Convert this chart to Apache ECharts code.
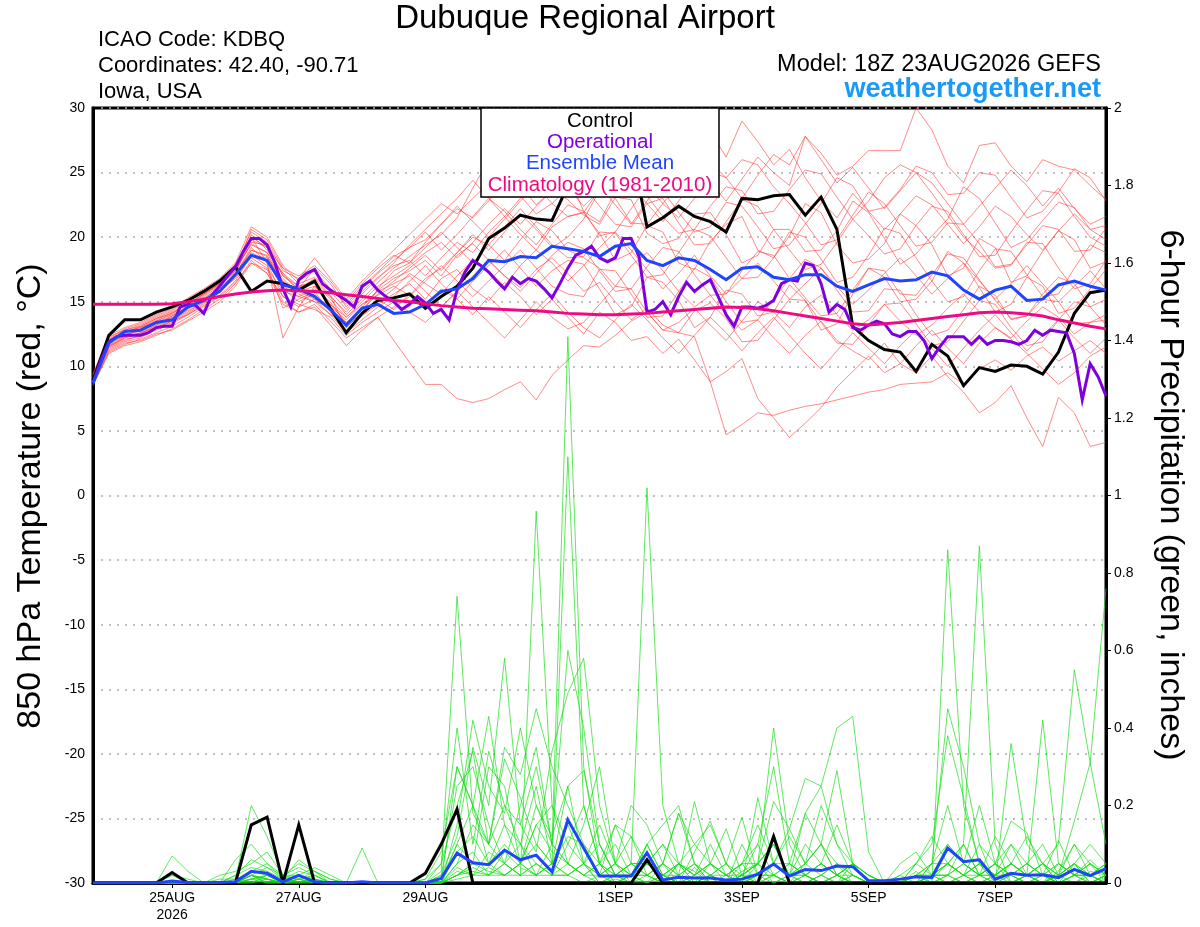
<!DOCTYPE html>
<html>
<head>
<meta charset="utf-8">
<script src="https://cdn.jsdelivr.net/npm/echarts@6/dist/echarts.min.js"></script>
<style>
html,body{margin:0;padding:0;background:#fff;}
#chart{width:1200px;height:927px;}
</style>
</head>
<body>
<div id="chart"></div>
<script>
// ---- x axis: 6-hourly steps from 23AUG2026 18Z (index 0) to 08SEP 18Z (index 64)
const tickIndex = [5, 13, 21, 33, 41, 49, 57];
const tickLabels = ['25AUG\n2026', '27AUG', '29AUG', '1SEP', '3SEP', '5SEP', '7SEP'];

// ---- Control (black), 850 hPa temperature, 6-hourly
const controlTemp = [8.9,12.4,13.6,13.6,14.2, 14.6,15.1,15.8,16.6,17.7, 15.8,16.6,16.4,15.9,16.6, 14.5,12.6,14.1,15.1,15.3,
 15.6,14.5,15.4,16.2,17.6, 19.9,20.7,21.7,21.4,21.3, 24.0,26.0,28.0,27.0,27.0, 20.8,21.5,22.4,21.6,21.2,
 20.4,23.0,22.9,23.2,23.3, 21.7,23.1,20.6,13.1,12.0, 11.3,11.1,9.6,11.7,10.8, 8.5,9.9,9.6,10.1,10.0,
 9.4,11.1,14.1,15.7,15.9];

// ---- Ensemble mean (blue) temperature, 6-hourly
const meanTemp = [8.7,11.8,12.7,12.8,13.4, 13.6,14.6,15.1,15.8,17.1, 18.6,18.2,16.3,16.0,15.4, 14.4,13.2,14.5,14.8,14.1,
 14.2,14.8,15.8,16.0,16.8, 18.2,18.1,18.5,18.4,19.3, 19.1,18.9,18.5,19.3,19.5, 18.2,17.8,18.4,18.2,17.5,
 16.7,17.6,17.7,16.9,16.7, 17.1,17.1,16.2,15.8,16.3, 16.8,16.6,16.7,17.3,17.0, 15.9,15.2,15.9,16.2,15.1,
 15.2,16.3,16.6,16.2,15.9];

// ---- Climatology 1981-2010 (pink), 6-hourly
const climTemp = [14.8,14.8,14.8,14.8,14.8, 14.85,15.0,15.2,15.4,15.6, 15.75,15.85,15.9,15.85,15.8, 15.7,15.55,15.4,15.25,15.1,
 15.0,14.85,14.7,14.6,14.5, 14.45,14.4,14.35,14.3,14.2, 14.1,14.05,14.0,14.0,14.05, 14.1,14.2,14.3,14.4,14.5,
 14.6,14.55,14.45,14.3,14.1, 13.9,13.7,13.5,13.3,13.2, 13.3,13.4,13.55,13.7,13.85, 14.0,14.15,14.2,14.15,14.05,
 13.9,13.6,13.35,13.1,12.9];

// ---- Operational (purple) temperature, 3-hourly (129 values)
const operTemp = [8.7,10.5,11.9,12.3,12.4,12.4,12.4,12.6,13.0,13.1,
 13.1,14.6,14.8,14.7,14.1,15.5,16.2,17.0,17.7,18.9,
 19.9,19.9,19.4,18.0,16.0,14.6,16.7,17.2,17.5,16.4,
 15.9,15.5,15.1,14.6,16.2,16.6,15.9,15.4,15.0,14.4,
 14.8,15.4,14.9,14.1,14.4,13.6,15.9,17.3,18.2,17.8,
 17.3,16.6,16.0,16.9,16.4,16.8,16.6,16.0,15.3,16.4,
 17.6,18.6,18.9,19.3,18.4,18.1,18.4,19.9,19.9,18.5,
 14.2,14.4,15.0,14.0,15.4,16.5,15.8,16.3,16.7,15.4,
 14.0,13.1,14.6,14.6,14.5,14.7,15.1,16.4,16.7,16.6,
 18.0,17.8,16.4,14.2,14.8,14.4,13.0,12.8,13.2,13.5,
 13.3,12.5,12.3,12.7,12.7,12.0,10.6,11.5,12.3,12.3,
 12.3,11.7,12.3,11.7,12.0,12.0,11.9,11.7,12.0,12.8,
 12.4,12.8,12.7,12.6,11.0,7.4,10.2,9.2,7.7];

// ---- Ensemble members (red) temperature, 6-hourly
const t01 = [9.0,11.8,12.6,13.0,13.6,14.2,14.8,15.6,16.4,17.5, 19.5,18.8,16.5,16.0,16.8,15.5,14.0,15.2,16.5,17.6,
 18.5,19.4,20.2,21.5,23.8,26.0,25.2,24.0,22.5,23.6, 24.8,22.0,21.2,23.5,25.4,24.0,22.6,21.5,23.0,24.2,
 22.8,24.5,26.2,25.0,24.0,27.8,26.5,24.8,25.5,26.7, 26.7,26.7,30.0,28.3,25.5,24.2,27.1,27.3,25.5,24.3, 26.0,25.5,25.2,24.0,22.9];
const t02 = [8.6,11.2,11.8,12.0,12.5,12.8,13.5,14.2,15.0,16.2, 18.0,17.5,15.0,14.2,14.8,13.5,12.2,13.0,13.8,12.0,
 10.3,8.6,8.6,7.5,7.2,7.5,8.2,8.8,7.4,9.3, 10.5,11.6,11.5,12.4,13.5,14.2,12.8,13.4,14.5,13.2,
 12.0,13.5,15.0,14.2,13.0,14.6,15.5,14.0,12.8,13.6, 14.8,13.5,12.4,13.2,14.5,15.6,14.2,13.0,12.2,13.5, 14.6,13.8,12.5,13.4,14.0];
const t03 = [9.2,12.0,12.4,12.8,13.4,13.9,14.5,15.1,16.0,17.2, 20.2,19.0,17.2,15.8,16.2,14.8,13.4,14.6,15.9,16.8,
 17.4,18.2,17.0,18.6,19.5,18.2,17.0,16.1,17.5,18.4, 17.2,15.8,16.5,15.0,13.6,14.5,13.2,12.6,12.3,8.8,
 4.7,5.5,6.4,6.2,6.6,6.9,7.1,7.4,7.7,8.0, 8.2,8.6,8.7,8.8,9.5,8.6,9.8,10.5,9.7,10.8, 11.5,10.4,11.2,12.0,11.0];
const t04 = [8.8,11.5,12.2,12.6,13.0,13.5,14.0,14.7,15.5,16.6, 18.6,17.8,14.5,15.2,15.8,14.2,12.8,13.9,14.8,15.6,
 16.4,15.2,16.8,17.5,16.0,15.1,16.5,15.4,14.0,15.2, 13.8,12.5,14.2,13.4,12.0,12.3,11.0,12.1,10.5,8.8,
 9.6,10.6,7.5,6.0,4.5,5.6,6.8,8.4,9.6,10.8, 9.5,10.2,11.6,12.8,11.4,10.2,11.8,13.0,12.1,11.0, 9.8,8.6,9.5,10.8,11.5];
const t05 = [9.0,11.6,12.3,12.5,13.1,13.6,14.3,15.0,15.7,16.9, 19.0,18.5,16.8,15.6,15.0,14.6,13.6,14.8,15.5,16.2,
 15.5,16.8,17.6,18.8,20.0,19.4,18.2,19.8,21.2,20.5, 19.0,18.4,17.6,16.2,17.8,18.8,17.4,15.8,14.6,15.5,
 14.0,12.8,13.6,12.2,11.0,12.4,13.5,12.0,11.2,10.5, 11.8,10.2,9.5,10.8,9.2,8.0,6.4,7.2,8.5,6.0, 3.8,7.6,6.4,3.8,4.1];
const t06 = [9.4,12.2,12.9,13.3,13.9,14.5,15.3,16.0,16.8,18.0, 20.8,20.0,17.8,16.6,17.4,16.0,14.8,16.2,17.3,18.5,
 19.2,19.8,21.0,22.2,21.5,22.8,24.5,23.2,21.8,22.6, 23.8,25.4,24.0,22.5,21.0,22.8,24.6,26.0,27.4,28.2,
 26.2,29.0,27.4,25.6,26.8,24.6,22.8,21.5,23.4,22.0, 20.6,21.8,23.2,22.5,21.0,19.5,20.8,22.4,21.6,20.2, 19.0,20.5,21.8,20.6,19.8];
const t07 = [8.9,11.9,12.5,12.7,13.3,13.8,14.6,15.4,16.2,17.4, 19.8,19.2,17.6,16.4,16.9,15.8,14.4,15.8,16.9,17.8,
 18.2,17.0,18.4,19.6,18.8,20.4,21.6,20.2,19.0,20.8, 21.6,21.9,20.3,18.2,18.8,20.9,20.4,18.0,17.5,19.7,
 21.0,21.6,19.0,18.4,20.1,22.6,21.9,19.4,18.0,18.3, 19.5,21.8,20.9,19.4,17.0,17.6,19.9,19.2,16.5,17.0, 18.9,20.5,19.8,17.6,18.1];
const t08 = [9.1,11.4,12.0,12.4,12.8,13.3,14.0,14.8,15.8,17.0, 18.8,18.2,16.0,15.0,15.6,14.4,13.0,14.2,15.0,16.0,
 17.2,16.4,15.6,17.0,18.2,17.4,16.2,17.8,19.0,18.0, 16.6,17.8,19.2,20.4,19.0,17.5,16.0,17.2,18.6,17.0,
 15.6,16.8,18.0,16.6,15.2,16.4,17.6,16.2,14.8,15.9, 17.2,18.4,17.0,15.6,16.8,18.0,16.6,15.2,16.4,17.8, 16.4,15.0,16.2,17.4,16.0];
const t09 = [9.3,12.1,12.8,13.1,13.7,14.3,15.0,15.8,16.6,17.8, 20.4,19.6,17.4,16.8,18.4,16.8,15.2,16.6,17.8,19.0,
 20.2,21.4,22.6,21.8,23.0,24.2,23.4,25.0,26.4,25.2, 23.8,22.4,23.6,25.0,24.0,22.6,21.2,22.8,24.4,25.8,
 24.6,23.0,24.8,26.4,25.6,27.8,26.0,24.2,25.4,23.8, 22.2,23.6,25.0,24.2,22.6,21.0,22.4,23.8,25.2,24.0, 22.4,23.8,22.2,21.0,21.6];
const t10 = [8.7,11.3,11.9,12.2,12.9,13.4,14.1,14.9,15.9,17.1, 19.2,18.0,15.4,14.6,15.2,14.0,12.6,13.6,14.6,15.4,
 16.6,17.8,16.4,15.2,16.6,17.8,19.0,17.6,16.2,17.4, 18.2,17.9,16.0,14.0,14.6,16.9,16.5,15.1,13.0,13.8,
 15.9,15.6,13.9,14.2,16.3,15.1,12.8,13.3,15.6,17.6, 16.9,15.0,15.2,16.6,18.9,18.0,16.1,14.2,14.8,16.9, 16.2,14.1,14.5,16.0,17.5];
const t11 = [9.0,11.7,12.4,12.9,13.5,14.0,14.7,15.5,16.3,17.3, 19.6,19.4,17.0,16.2,16.4,15.2,13.8,15.0,16.2,17.0,
 17.8,18.8,19.6,18.4,19.6,21.0,22.2,21.0,22.4,23.6, 22.9,21.7,21.0,23.1,22.9,20.3,19.5,19.9,21.8,21.9,
 20.2,18.0,18.6,20.6,20.6,18.9,19.0,20.5,22.8,21.9, 19.9,17.9,18.7,20.1,21.4,23.9,23.0,21.1,19.2,19.8, 21.3,22.7,22.3,20.6,20.9];
const t12 = [8.8,11.6,12.2,12.5,13.2,13.7,14.4,15.2,16.1,17.2, 19.0,18.6,16.2,15.4,16.0,15.0,13.2,14.4,15.6,16.6,
 17.6,18.6,17.4,18.8,20.2,19.0,20.4,21.8,20.6,19.2, 20.0,21.4,23.6,23.0,21.1,21.0,22.6,24.1,26.2,25.1,
 24.6,26.0,25.6,23.9,22.6,21.1,19.4,19.8,21.7,23.5, 22.6,20.9,19.3,19.6,21.1,21.0,19.5,17.7,17.9,19.4, 20.9,20.6,18.9,19.0,20.7];
const t13 = [9.2,11.9,12.3,12.6,13.2,13.9,14.6,15.3,16.0,17.0, 18.4,17.6,15.8,15.4,15.0,14.0,13.4,14.0,15.2,14.4,
 15.6,14.8,16.0,15.2,14.0,15.4,14.2,13.0,14.4,15.6, 14.2,13.0,12.2,13.6,14.8,13.6,12.2,11.0,12.4,13.8,
 12.6,11.2,12.6,13.8,12.4,11.0,9.8,11.2,12.6,11.4, 10.2,11.6,12.8,11.4,10.0,11.4,12.8,14.0,12.6,11.2, 12.4,13.6,12.2,11.0,12.2];
const t14 = [9.4,12.4,13.0,13.4,14.0,14.6,15.2,15.9,16.7,17.9, 20.0,19.2,17.0,16.0,17.6,16.4,14.6,16.0,17.2,18.2,
 19.2,20.4,19.0,20.2,21.6,23.0,22.0,20.6,19.4,21.0, 22.5,22.0,20.1,20.4,22.2,23.9,23.6,21.9,20.4,20.8,
 22.7,22.4,20.8,19.1,19.4,21.0,22.6,24.6,24.0,22.0, 22.3,23.7,25.5,25.0,23.3,23.4,25.0,24.8,23.1,21.5, 22.0,23.5,25.3,24.6,22.8];
const t15 = [8.6,11.0,11.6,11.9,12.4,12.9,13.6,14.4,15.2,16.4, 18.2,17.2,14.8,14.2,14.6,13.2,11.6,12.8,13.8,14.6,
 15.4,16.6,17.8,16.6,15.4,16.6,17.8,19.0,17.6,16.2, 15.6,15.4,17.5,17.4,15.6,13.8,13.9,15.8,17.6,16.9,
 15.0,13.4,13.6,15.2,16.8,18.3,17.6,15.9,14.2,14.3, 16.0,15.9,14.0,12.4,12.8,14.4,16.2,15.5,13.6,13.9, 15.2,15.0,13.3,13.4,13.6];
const t16 = [9.1,12.3,12.8,13.2,13.8,14.4,15.1,15.7,16.5,17.6, 20.0,18.0,12.2,14.6,16.2,15.4,13.0,14.2,16.0,17.4,
 18.0,19.2,20.4,19.2,18.0,19.4,20.8,22.2,20.8,19.4, 18.4,18.5,20.4,20.3,18.6,16.9,17.1,18.8,20.6,20.1,
 18.4,16.8,16.9,18.4,20.4,20.0,18.3,16.5,16.9,18.6, 20.7,20.3,18.4,16.6,15.0,15.4,17.4,19.1,18.9,17.1, 15.4,15.6,17.6,19.4,18.8];
const t17 = [8.9,11.8,12.6,13.1,13.7,14.1,14.9,15.6,16.4,17.6, 19.4,18.8,17.2,16.2,16.6,15.4,14.2,15.6,16.8,18.0,
 19.4,20.6,21.8,23.0,24.4,23.0,21.6,23.0,24.4,26.2, 25.1,24.0,22.4,21.0,20.8,22.6,23.0,21.1,19.4,19.5,
 21.2,22.9,22.4,20.6,19.0,17.5,17.9,19.6,21.4,22.8, 24.6,25.6,25.0,23.4,21.7,20.0,18.9,17.6,17.8,19.6, 19.5,17.6,16.0,16.4,18.2];
const t18 = [8.5,11.1,11.7,12.1,12.6,13.1,13.8,14.6,15.4,16.5, 18.0,17.2,15.4,14.8,14.4,13.8,12.4,13.4,14.2,15.0,
 14.2,13.4,14.6,15.8,14.6,13.4,12.2,13.6,15.0,13.8, 12.9,13.4,14.8,16.2,16.0,14.2,12.8,12.6,14.3,14.9,
 13.7,11.9,12.0,13.6,15.2,15.1,13.4,11.8,11.7,13.2, 14.8,14.9,13.3,11.6,11.9,13.5,15.1,14.8,13.0,11.6, 11.9,13.6,15.0,14.6,13.2];
const t19 = [9.3,12.0,12.7,13.0,13.5,14.1,14.8,15.6,16.4,17.4, 20.6,19.8,17.6,17.0,17.8,16.6,15.0,16.4,17.6,18.6,
 18.0,19.6,21.0,22.4,21.2,20.0,21.4,22.8,24.0,22.6, 21.6,21.9,23.7,25.4,25.1,23.2,21.6,20.3,20.6,22.4,
 23.9,23.6,21.8,22.0,23.7,25.2,24.9,23.1,21.4,20.1, 18.7,19.1,20.9,22.4,22.0,20.2,18.5,18.6,20.4,22.1, 23.6,23.4,21.6,20.0,19.3];
const t20 = [9.0,11.5,12.1,12.3,13.0,13.5,14.2,15.0,15.9,16.8, 18.6,18.4,16.6,15.8,15.2,14.8,13.8,14.8,15.8,16.4,
 17.0,15.8,14.6,15.8,17.0,18.2,17.0,15.8,17.2,18.6, 19.6,19.1,17.4,15.8,16.0,17.7,19.2,18.9,17.1,15.5,
 15.6,17.4,18.9,18.6,16.8,15.3,13.9,14.1,15.9,17.6, 17.4,15.6,15.5,17.1,18.7,18.4,16.7,15.1,13.7,13.9, 15.6,16.9,16.4,14.6,15.2];
const tempMembers = [t01,t02,t03,t04,t05,t06,t07,t08,t09,t10,t11,t12,t13,t14,t15,t16,t17,t18,t19,t20];

// ---- 6-hour precipitation (inches)
const controlPrecip = [0,0,0,0,0, 0.027,0,0,0,0, 0.15,0.17,0,0.15,0, 0,0,0,0,0, 0,0.025,0.10,0.19,0,
 0,0,0,0,0, 0,0,0,0,0, 0.06,0,0,0,0, 0,0,0,0.12,0, 0,0,0,0,0, 0,0,0,0,0, 0,0,0,0,0, 0,0,0,0,0];
const meanPrecip = [0,0,0,0,0, 0.005,0.001,0.001,0.001,0.003, 0.03,0.025,0.003,0.02,0.003, 0,0,0.003,0,0,
 0,0,0.012,0.077,0.052, 0.047,0.085,0.06,0.072,0.029, 0.163,0.09,0.018,0.018,0.018, 0.078,0.008,0.015,0.013,0.013,
 0.008,0.01,0.023,0.049,0.018, 0.035,0.032,0.044,0.042,0.006, 0.006,0.01,0.016,0.014,0.09, 0.055,0.06,0.01,0.025,0.02,
 0.021,0.014,0.035,0.019,0.037];
const p01 = [0,0,0,0,0, 0.07,0.03,0,0,0.01, 0.20,0.12,0.02,0.04,0.02, 0,0,0,0,0, 0,0,0.03,0.74,0.18, 0.10,0.05,0.02,0.96,0.20, 0.05,0.02,0,0.01,0, 0.10,0.02,0,0.04,0, 0,0.05,0.10,0.02,0, 0.05,0.10,0.02,0,0, 0,0,0.03,0,0.86, 0.20,0.05,0,0.02,0, 0,0.03,0.10,0.02,0];
const p02 = [0,0,0,0,0, 0.02,0,0,0,0.06, 0.10,0.05,0.01,0.06,0.03, 0.01,0,0.09,0,0, 0,0,0.02,0.12,0.35, 0.20,0.58,0.15,0.30,0.10, 1.41,0.30,0.05,0,0.02, 0,0.05,0.18,0.05,0, 0,0.02,0.05,0.40,0.10, 0.02,0,0,0.05,0.02, 0,0,0,0.02,0.05, 0.10,0.87,0.10,0,0.02, 0.05,0,0,0.03,0.02];
const p03 = [0,0,0,0,0, 0,0,0,0.02,0.03, 0.05,0.08,0.02,0.02,0.01, 0,0,0,0,0, 0,0.01,0.05,0.20,0.34, 0.10,0.32,0.22,0.10,0.05, 1.10,0.20,0.05,0.15,0.05, 0.05,0.02,0,0.08,0.16, 0.05,0.17,0.02,0.05,0.14, 0.05,0.10,0.05,0.02,0, 0,0,0.02,0.01,0.05, 0.02,0.10,0,0.36,0.10, 0.05,0.02,0.16,0.31,0.76];
const p04 = [0,0,0,0,0, 0.02,0.01,0,0,0.02, 0.04,0.03,0.01,0.02,0.04, 0.02,0,0,0,0, 0,0,0.05,0.40,0.10, 0.34,0.20,0.15,0.08,0.34, 0.49,0.58,0.20,0.05,0.12, 0.05,0.10,0.05,0.02,0.05, 0.02,0,0.22,0.05,0.05, 0.18,0.10,0.29,0.05,0.02, 0,0,0,0.05,0.45, 0.30,0.10,0.05,0.16,0.13, 0.02,0.11,0.02,0.06,0.02];
const p05 = [0,0,0,0,0, 0,0,0,0.01,0.01, 0.03,0.05,0.02,0.05,0.03, 0,0,0,0,0, 0,0,0,0.15,0.42, 0.25,0.18,0.40,0.20,0.12, 0.25,0.29,0.10,0.02,0.05, 1.02,0.20,0.05,0.03,0, 0,0.03,0.05,0.21,0.14, 0.27,0.25,0.40,0.43,0.08, 0,0,0.05,0.10,0.38, 0.22,0.05,0.02,0.05,0.02, 0.42,0.05,0.02,0.02,0.05];
const p06 = [0,0,0,0,0, 0,0,0,0,0, 0.02,0.04,0.01,0.03,0.02, 0,0,0,0,0, 0,0.01,0.08,0.30,0.20, 0.43,0.15,0.10,0.25,0.05, 0.12,0.10,0.02,0.15,0.12, 0.02,0.05,0.02,0.21,0.05, 0.02,0.05,0.05,0.10,0.02, 0.18,0.25,0.10,0.02,0, 0,0.05,0.08,0.02,0.10, 0.05,0.02,0.12,0.05,0.02, 0.05,0.10,0.55,0.31,0.10];
const p07 = [0,0,0,0,0, 0,0,0,0,0.02, 0.06,0.04,0.02,0.01,0.03, 0.01,0,0,0,0, 0,0,0.02,0.25,0.30, 0.15,0.05,0.20,0.35,0.10, 0.05,0.15,0.30,0.05,0.02, 0.10,0.15,0.20,0.05,0.02, 0,0.10,0.02,0.05,0.12, 0.05,0.20,0.10,0.05,0, 0,0,0.05,0.12,0.05, 0.02,0.05,0.02,0.10,0.05, 0.02,0,0.05,0.10,0.05];
const p08 = [0,0,0,0,0, 0,0,0,0,0, 0.03,0.02,0,0.02,0.01, 0,0,0,0,0, 0,0,0.01,0.10,0.05, 0.30,0.25,0.05,0.15,0.20, 0.10,0.05,0.15,0.05,0.20, 0.15,0.05,0.18,0.10,0.05, 0.14,0.02,0.10,0.30,0.05, 0.02,0.05,0.15,0.05,0.02, 0,0.02,0.05,0.02,0.02, 0.10,0.02,0.05,0.02,0.05, 0.10,0.02,0.05,0.02,0.05];
const p09 = [0,0,0,0,0, 0,0,0,0,0, 0.02,0.01,0,0.01,0.02, 0,0,0,0,0, 0,0,0,0.05,0.15, 0.10,0.35,0.28,0.45,0.30, 0.20,0.10,0.05,0.02,0.05, 0.05,0.02,0.05,0.10,0.15, 0.05,0.02,0.05,0.10,0.02, 0.05,0.10,0.02,0.05,0, 0,0,0.02,0.05,0.20, 0.05,0.02,0.02,0.05,0.12, 0.05,0.02,0.10,0.05,0.02];
const p10 = [0,0,0,0,0, 0,0,0,0,0, 0.01,0.02,0,0.02,0, 0,0,0,0,0, 0,0,0,0.10,0.20, 0.05,0.10,0.05,0.20,0.10, 0.60,0.40,0.10,0.02,0.05, 0.02,0,0.05,0.02,0.10, 0.02,0.05,0.15,0.05,0.02, 0.10,0.05,0.02,0.05,0.02, 0,0,0.02,0.05,0.05, 0.02,0.05,0.02,0.05,0.02, 0.02,0.05,0.02,0.05,0.02];
const p11 = [0,0,0,0,0, 0,0,0,0,0, 0.02,0.01,0,0,0.01, 0,0,0,0,0, 0,0,0,0.30,0.20, 0.10,0.20,0.10,0.05,0.02, 0.10,0.20,0.05,0.10,0.02, 0.05,0.10,0.02,0,0.05, 0.02,0,0.05,0.02,0.05, 0.02,0,0.02,0.05,0, 0,0,0,0.05,0.10, 0.05,0.20,0.05,0.02,0, 0.02,0.05,0.02,0.02,0];
const p12 = [0,0,0,0,0, 0,0,0,0,0, 0.01,0.01,0,0.01,0, 0,0,0,0,0, 0,0,0,0.08,0.12, 0.05,0.15,0.05,0.10,0.05, 0.25,0.05,0.02,0.05,0.02, 0.10,0.02,0.05,0,0.02, 0,0.02,0.05,0.10,0.02, 0.02,0.05,0.02,0,0, 0,0.02,0,0.02,0.05, 0.10,0.02,0.05,0.10,0.02, 0.05,0.02,0.05,0,0.02];
const p13 = [0,0,0,0,0, 0,0,0,0,0, 0.01,0,0,0.02,0, 0,0,0,0,0, 0,0,0,0.05,0.08, 0.02,0.05,0.10,0.02,0.05, 0.15,0.05,0.10,0.02,0, 0.05,0.02,0,0.02,0.05, 0,0.02,0.02,0.05,0.02, 0,0.02,0.05,0.02,0, 0,0,0.02,0,0.02, 0.05,0.02,0,0.05,0.02, 0,0.02,0.05,0.02,0];
const p14 = [0,0,0,0,0, 0,0,0,0,0, 0,0.01,0,0,0, 0,0,0,0,0, 0,0,0,0.02,0.05, 0.05,0.02,0.05,0.15,0.08, 0.05,0.02,0.05,0,0.02, 0.02,0,0.02,0.05,0.02, 0.02,0,0.02,0.02,0, 0.02,0.05,0.02,0,0, 0,0,0,0.02,0.05, 0.02,0,0.02,0.02,0.05, 0.02,0,0.02,0.05,0.02];
const p15 = [0,0,0,0,0, 0,0,0,0,0, 0.02,0,0,0.01,0, 0,0,0,0,0, 0,0,0,0.04,0.02, 0.08,0.05,0.02,0.05,0.02, 0.02,0.05,0,0.02,0.05, 0.02,0.05,0,0,0.02, 0.05,0,0.02,0,0.02, 0,0.02,0,0.02,0, 0,0,0.02,0.02,0, 0.02,0.05,0,0,0.02, 0,0.02,0,0.02,0.05];
const p16 = [0,0,0,0,0, 0,0,0,0,0, 0,0.02,0,0.02,0, 0,0,0,0,0, 0,0,0,0.02,0.04, 0.02,0.08,0.04,0.02,0.10, 0.05,0.02,0.02,0.05,0, 0.02,0,0.05,0.02,0, 0,0.02,0,0.02,0.05, 0.02,0,0.02,0.05,0, 0,0,0,0.02,0.02, 0,0.02,0.05,0.02,0, 0.02,0,0.02,0,0.02];
const p17 = [0,0,0,0,0, 0,0,0,0,0, 0.02,0.01,0,0.01,0, 0,0,0,0,0, 0,0,0,0.02,0.05, 0.03,0.02,0.05,0.02,0.05, 0.02,0.05,0.02,0,0.02, 0.05,0.02,0,0.02,0.05, 0.02,0.02,0,0.05,0.02, 0.05,0.02,0,0.02,0, 0,0,0,0.02,0.05, 0.02,0,0.02,0.05,0.02, 0,0.02,0.05,0,0.02];
const p18 = [0,0,0,0,0, 0,0,0,0,0, 0.01,0.02,0,0,0, 0,0,0,0,0, 0,0,0,0.03,0.02, 0.02,0.05,0.02,0.05,0.02, 0.05,0.02,0.05,0.02,0, 0,0.02,0.05,0,0.02, 0.05,0,0.02,0.02,0, 0.02,0.05,0.02,0,0, 0,0,0.02,0,0.02, 0.05,0.02,0.02,0,0.02, 0.05,0,0.02,0.02,0];
const p19 = [0,0,0,0,0, 0,0,0,0,0, 0,0,0,0.01,0, 0,0,0,0,0, 0,0,0,0.02,0.03, 0.02,0.02,0.05,0.02,0.02, 0.02,0.05,0,0.02,0.02, 0.02,0.05,0.02,0,0.02, 0,0.02,0.05,0,0.02, 0.02,0,0.02,0.02,0, 0,0,0,0.02,0, 0.02,0.02,0,0.02,0.05, 0.02,0,0.02,0.05,0];
const p20 = [0,0,0,0,0, 0,0,0,0,0, 0.02,0,0,0,0, 0,0,0,0,0, 0,0,0,0.01,0.02, 0.04,0.02,0.02,0.02,0.05, 0.02,0,0.02,0.05,0.02, 0,0.02,0.02,0.05,0, 0.02,0.05,0,0.02,0, 0,0.02,0.05,0,0, 0,0,0.02,0.02,0.02, 0,0.02,0.05,0,0.02, 0,0.05,0.02,0,0.02];
const precipMembers = [p01,p02,p03,p04,p05,p06,p07,p08,p09,p10,p11,p12,p13,p14,p15,p16,p17,p18,p19,p20];

// ---- texts
const titleText = 'Dubuque Regional Airport';
const infoLines = ['ICAO Code: KDBQ', 'Coordinates: 42.40, -90.71', 'Iowa, USA'];
const modelText = 'Model: 18Z 23AUG2026 GEFS';
const siteText = 'weathertogether.net';
const legendNames = ['Control', 'Operational', 'Ensemble Mean', 'Climatology (1981-2010)'];
const leftAxisName = '850 hPa Temperature (red, \u00B0C)';
const rightAxisName = '6-hour Precipitation (green, inches)';

// ---- styles
const C_CONTROL = '#000000', C_OPER = '#7f00df', C_MEAN = '#1f45fc', C_CLIM = '#ee0a82';
const FONT = '"Liberation Sans", Arial, Helvetica, sans-serif';

const pts6 = arr => arr.map((v, i) => [i, v]);
const pts3 = arr => arr.map((v, j) => [j / 2, v]);

const series = [];
tempMembers.forEach((m, k) => series.push({
  type: 'line', name: 'mem' + k, data: pts6(m), yAxisIndex: 0, symbol: 'none', silent: true,
  lineStyle: { color: 'rgba(255,45,45,0.7)', width: 0.8 }, z: 1
}));
precipMembers.forEach((m, k) => series.push({
  type: 'line', name: 'pmem' + k, data: pts6(m), yAxisIndex: 1, symbol: 'none', silent: true,
  lineStyle: { color: 'rgba(20,220,20,0.85)', width: 0.8 }, z: 1
}));
function thick(name, data, axis, color, z) {
  return { type: 'line', name, data, yAxisIndex: axis, symbol: 'none', silent: true,
    lineStyle: { color, width: 3, join: 'miter' }, z };
}
series.push(thick('Control', pts6(controlTemp), 0, C_CONTROL, 3));
series.push(thick('ControlP', pts6(controlPrecip), 1, C_CONTROL, 3));
series.push(thick('Operational', pts3(operTemp), 0, C_OPER, 4));
series.push(thick('Mean', pts6(meanTemp), 0, C_MEAN, 5));
series.push(thick('MeanP', pts6(meanPrecip), 1, C_MEAN, 5));
series.push(thick('Clim', pts6(climTemp), 0, C_CLIM, 6));

const graphics = [];
graphics.push({ type: 'text', x: 585, y: 19, style: { text: titleText, align: 'center', verticalAlign: 'middle', font: '33px ' + FONT, fill: '#000' } });
infoLines.forEach((t, k) => graphics.push({ type: 'text', x: 98, y: 40 + 26 * k,
  style: { text: t, align: 'left', verticalAlign: 'middle', font: '22px ' + FONT, fill: '#000' } }));
graphics.push({ type: 'text', x: 1101, y: 65, style: { text: modelText, align: 'right', verticalAlign: 'middle', font: '23.5px ' + FONT, fill: '#000' } });
graphics.push({ type: 'text', x: 1101, y: 90, style: { text: siteText, align: 'right', verticalAlign: 'middle', font: 'bold 27px ' + FONT, fill: '#1a9af5' } });
// legend box
graphics.push({ type: 'rect', shape: { x: 481, y: 108, width: 238, height: 89 }, style: { fill: '#fff', stroke: '#000', lineWidth: 1.5 }, z: 100 });
const legendColors = [C_CONTROL, C_OPER, C_MEAN, C_CLIM];
legendNames.forEach((t, k) => graphics.push({ type: 'text', x: 600, y: 121 + 21.3 * k, z: 101,
  style: { text: t, align: 'center', verticalAlign: 'middle', font: '20.5px ' + FONT, fill: legendColors[k] } }));
// axis names
graphics.push({ type: 'text', x: 31, y: 496, rotation: Math.PI / 2,
  style: { text: leftAxisName, align: 'center', verticalAlign: 'middle', font: '34px ' + FONT, fill: '#000' } });
graphics.push({ type: 'text', x: 1170, y: 495, rotation: -Math.PI / 2,
  style: { text: rightAxisName, align: 'center', verticalAlign: 'middle', font: '34px ' + FONT, fill: '#000' } });

const chart = echarts.init(document.getElementById('chart'), null, { renderer: 'canvas' });
chart.setOption({
  animation: false,
  backgroundColor: '#fff',
  textStyle: { fontFamily: FONT },
  grid: { left: 93, right: 94, top: 108, bottom: 44, show: true, borderColor: '#000', borderWidth: 3, backgroundColor: 'transparent' },
  xAxis: {
    type: 'value', min: 0, max: 64,
    axisLine: { show: true, onZero: false, lineStyle: { color: '#000', width: 3 } },
    axisTick: { show: true, length: 5, lineStyle: { color: '#000', width: 1 }, customValues: tickIndex },
    axisLabel: { customValues: tickIndex, color: '#000', fontSize: 14, lineHeight: 17, margin: 7,
      formatter: v => { const k = tickIndex.indexOf(Math.round(v)); return k >= 0 ? tickLabels[k] : ''; } },
    splitLine: { show: false }
  },
  yAxis: [
    { type: 'value', min: -30, max: 30, interval: 5, position: 'left',
      axisLine: { show: true, lineStyle: { color: '#000', width: 3 } },
      axisTick: { show: false },
      axisLabel: { color: '#000', fontSize: 14, margin: 8 },
      splitLine: { show: true, lineStyle: { color: '#aaaaaa', width: 1.5, type: [2, 6] } } },
    { type: 'value', min: 0, max: 2, interval: 0.2, position: 'right',
      axisLine: { show: true, lineStyle: { color: '#000', width: 3 } },
      axisTick: { show: true, length: 5, lineStyle: { color: '#000' } },
      axisLabel: { color: '#000', fontSize: 14, margin: 8, formatter: v => String(Math.round(v * 10) / 10) },
      splitLine: { show: false } }
  ],
  series,
  graphic: graphics
});
</script>
</body>
</html>
